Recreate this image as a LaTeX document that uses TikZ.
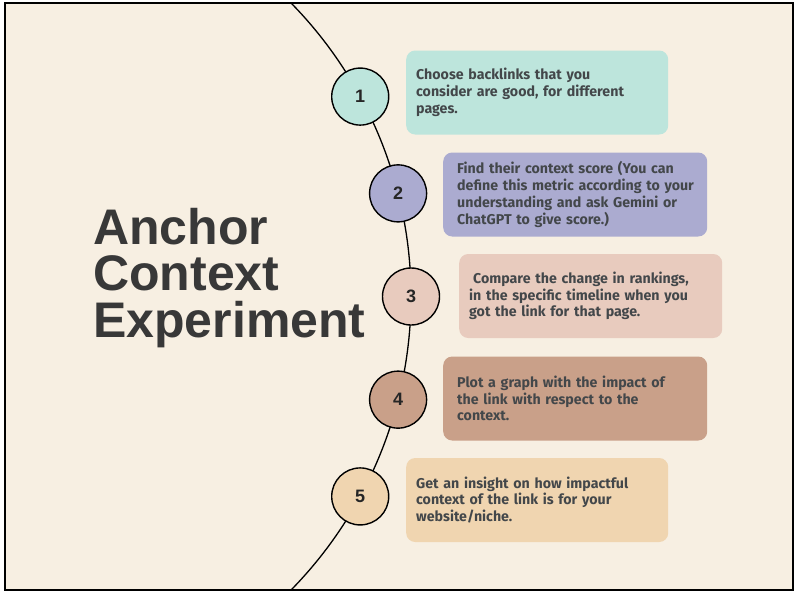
\documentclass[tikz,border=0pt]{standalone}
\usepackage{fontspec}
\setmainfont{Fira Sans}
\newfontfamily\titlefont{Liberation Sans}
\usetikzlibrary{calc}

\definecolor{paper}{HTML}{F7EFE2}
\definecolor{ink}{HTML}{43474A}
\definecolor{stepA}{HTML}{BDE5DC}
\definecolor{stepB}{HTML}{ABABD0}
\definecolor{stepC}{HTML}{E8CBBE}
\definecolor{stepD}{HTML}{C9A089}
\definecolor{stepE}{HTML}{F0D5B0}

\tikzset{
  num/.style={circle, draw=black, line width=1.4pt, minimum size=57pt, inner sep=0pt,
    font=\titlefont\fontsize{18}{18}\selectfont\bfseries, text=black!85},
  card/.style 2 args={rounded corners=9pt, minimum height=84pt, align=left, inner sep=0pt,
    text width=#1pt, font=\fontsize{14.2}{16.8}\selectfont\bfseries,
    execute at begin node={\leftskip=#2pt\relax},
    text=ink, anchor=west},
}

\begin{document}
\begin{tikzpicture}[x=1pt, y=-1pt]

% Frame
\useasboundingbox (0,0) rectangle (799,597);
\fill[white] (0,0) rectangle (799,597);
\draw[line width=1.4pt, fill=paper] (5,3) rectangle (793,590);

% Arc
\coordinate (ctr) at (-8,296.5);
\begin{scope}
\clip (5,3) rectangle (793,590);
\draw[line width=1.3pt] ($(ctr)+(-46:419)$) arc[start angle=-46, end angle=46, radius=419];
\end{scope}

% Steps
\node[num, fill=stepA] (n1) at ($(ctr)+(-28.5:419)$) {1};
\node[num, fill=stepB] (n2) at ($(ctr)+(-14.25:419)$) {2};
\node[num, fill=stepC] (n3) at ($(ctr)+(0:419)$) {3};
\node[num, fill=stepD] (n4) at ($(ctr)+(14.25:419)$) {4};
\node[num, fill=stepE] (n5) at ($(ctr)+(28.5:419)$) {5};

% Cards
\node[card={262}{10}, fill=stepA] (c1) at (406,92.5)
  {Choose backlinks that you\\consider are good, for different\\pages.};
\node[card={264}{14}, fill=stepB] (c2) at (443,194.5)
  {Find their context score (You can\\define this metric according to your\\understanding and ask Gemini or\\ChatGPT to give score.)};
\node[card={263}{10}, fill=stepC] (c3) at (459,296)
  {\hspace{4pt}Compare the change in rankings,\\in the specific timeline when you\\got the link for that page.};
\node[card={264}{14}, fill=stepD] (c4) at (443,398.5)
  {Plot a graph with the impact of\\the link with respect to the\\context.\\[6pt]};
\node[card={262}{10}, fill=stepE] (c5) at (406,500)
  {Get an insight on how impactful\\context of the link is for your\\website/niche.};

% Title
\node[anchor=west, align=left, text=black!78, inner sep=0pt,
  font=\titlefont\fontsize{50}{46.5}\selectfont\bfseries] (title) at (93,278)
  {Anchor\\Context\\Experiment};

\end{tikzpicture}
\end{document}
